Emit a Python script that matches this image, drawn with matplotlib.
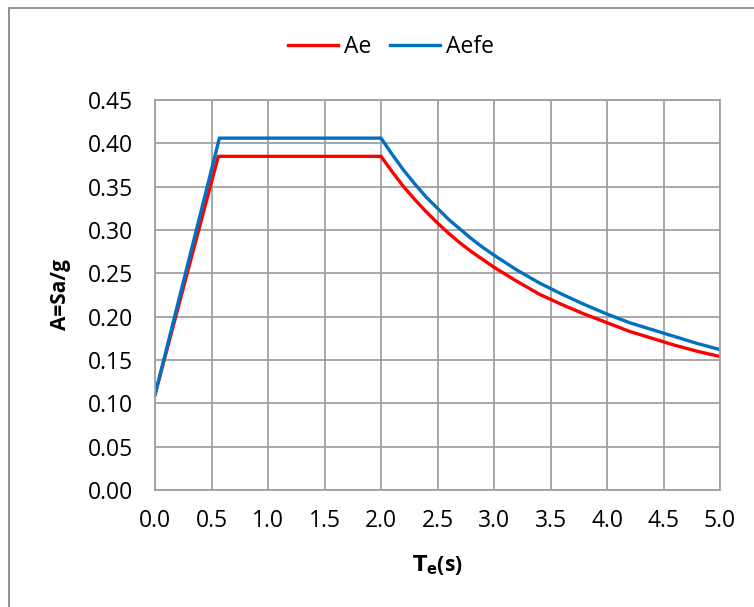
import matplotlib.pyplot as plt
from matplotlib.patches import Rectangle

# values
t_ae = [0.0, 0.56, 2.0, 2.1, 2.2, 2.3, 2.4, 2.5, 2.6, 2.7, 2.8, 2.9, 3.0, 3.2, 3.4, 3.6, 3.8,
        4.0, 4.2, 4.4, 4.6, 4.8, 5.0]
a_ae = [0.110, 0.385, 0.385, 0.367, 0.350, 0.335, 0.321, 0.308, 0.296, 0.285, 0.275, 0.266,
        0.257, 0.241, 0.226, 0.214, 0.203, 0.193, 0.183, 0.175, 0.167, 0.160, 0.154]
t_aefe = [0.0, 0.57, 2.0, 2.1, 2.2, 2.3, 2.4, 2.5, 2.6, 2.7, 2.8, 2.9, 3.0, 3.2, 3.4, 3.6, 3.8,
          4.0, 4.2, 4.4, 4.6, 4.8, 5.0]
a_aefe = [0.110, 0.406, 0.406, 0.387, 0.369, 0.353, 0.338, 0.325, 0.312, 0.301, 0.290, 0.280,
          0.271, 0.254, 0.239, 0.226, 0.214, 0.203, 0.193, 0.185, 0.177, 0.169, 0.162]
xticks = [0.0, 0.5, 1.0, 1.5, 2.0, 2.5, 3.0, 3.5, 4.0, 4.5, 5.0]
yticks = [0.00, 0.05, 0.10, 0.15, 0.20, 0.25, 0.30, 0.35, 0.40, 0.45]

plt.rcParams['font.family'] = ['Open Sans', 'DejaVu Sans']

fig = plt.figure(figsize=(7.54, 6.07), dpi=100)
ax = fig.add_axes([155 / 754, 1 - 490 / 607, (720 - 155) / 754, (490 - 100) / 607])

ax.plot(t_ae, a_ae, color='#FF0000', lw=2.4, label='Ae', solid_joinstyle='round')
ax.plot(t_aefe, a_aefe, color='#0070C0', lw=2.4, label='Aefe', solid_joinstyle='round')

ax.set_xlim(0, 5)
ax.set_ylim(0, 0.45)
ax.set_xticks(xticks)
ax.set_yticks(yticks)
ax.set_xticklabels([f'{v:.1f}' for v in xticks])
ax.set_yticklabels([f'{v:.2f}' for v in yticks])
ax.tick_params(length=0, labelsize=16.5, colors='black')
ax.tick_params(axis='y', pad=16)
ax.tick_params(axis='x', pad=14)
ax.grid(True, color='#A0A0A0', lw=1.3)
ax.set_axisbelow(True)
for s in ax.spines.values():
    s.set_color('#A0A0A0')
    s.set_linewidth(1.3)

ax.set_ylabel('A=Sa/g', fontsize=15, fontweight='bold', labelpad=12)
ax.set_xlabel(r'$\mathbf{T_e}$(s)', fontsize=15, fontweight='bold', labelpad=14)

fig.legend(loc='center', bbox_to_anchor=(391 / 754, 1 - 47 / 607), ncol=2, frameon=False,
           fontsize=16.5, handlelength=2.2, handletextpad=0.25, columnspacing=0.8)

# chart border: only left and top edges fall inside the image
fig.patches.append(Rectangle((9 / 754, -0.05), 1.0, 1.05 - 8 / 607, transform=fig.transFigure,
                             fill=False, edgecolor='#888888', lw=1.3))

plt.savefig('out.png', dpi=100)
